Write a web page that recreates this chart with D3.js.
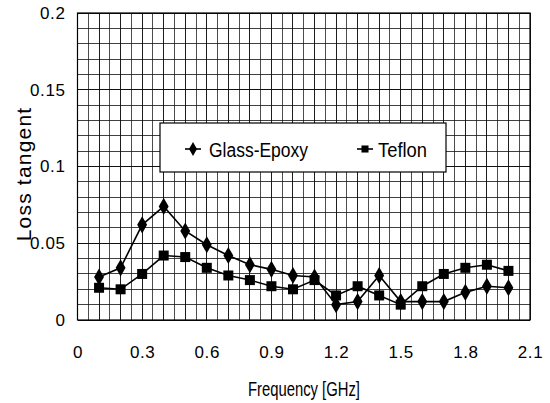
<!DOCTYPE html>
<html>
<head>
<meta charset="utf-8">
<script src="https://cdn.jsdelivr.net/npm/d3@7"></script>
<style>
  body { margin: 0; background: #fff; }
  svg { display: block; }
  .tick text { font-family: "Liberation Sans", Arial, sans-serif; font-size: 17px; fill: #000; letter-spacing: 0.6px; }
</style>
</head>
<body>
<div id="chart"></div>
<script>
const freq = [0.1, 0.2, 0.3, 0.4, 0.5, 0.6, 0.7, 0.8, 0.9, 1.0, 1.1, 1.2, 1.3, 1.4, 1.5, 1.6, 1.7, 1.8, 1.9, 2.0];
const glassEpoxy = [0.028, 0.034, 0.062, 0.074, 0.058, 0.049, 0.042, 0.036, 0.033, 0.029, 0.028, 0.010, 0.012, 0.029, 0.012, 0.012, 0.012, 0.018, 0.022, 0.021];
const teflon = [0.021, 0.020, 0.030, 0.042, 0.041, 0.034, 0.029, 0.026, 0.022, 0.020, 0.026, 0.016, 0.022, 0.016, 0.010, 0.022, 0.030, 0.034, 0.036, 0.032];
const xTicks = [0, 0.3, 0.6, 0.9, 1.2, 1.5, 1.8, 2.1];
const yTicks = [0, 0.05, 0.1, 0.15, 0.2];
const seriesNames = ["Glass-Epoxy", "Teflon"];

const width = 550, height = 403;
const margin = { left: 77.5, right: 530, top: 13, bottom: 320 };

const svg = d3.select("#chart").append("svg")
  .attr("width", width)
  .attr("height", height);

const x = d3.scaleLinear().domain([0, 2.1]).range([margin.left, margin.right]);
const y = d3.scaleLinear().domain([0, 0.2]).range([margin.bottom, margin.top]);

// grid
const grid = svg.append("g").attr("stroke", "#111").attr("stroke-width", 1).attr("shape-rendering", "crispEdges");
grid.selectAll(".v").data(d3.range(0, 43).map(i => i * 0.05))
  .join("line")
  .attr("x1", d => x(d)).attr("x2", d => x(d))
  .attr("y1", margin.top).attr("y2", margin.bottom)
  .attr("stroke-opacity", (d, i) => i % 2 ? 0.75 : 0.95);
grid.selectAll(".h").data(d3.range(0, 21).map(i => i * 0.01))
  .join("line")
  .attr("x1", margin.left).attr("x2", margin.right)
  .attr("y1", d => y(d)).attr("y2", d => y(d))
  .attr("stroke-opacity", (d, i) => i % 5 ? 0.8 : 1);

svg.append("rect")
  .attr("x", margin.left).attr("y", margin.top)
  .attr("width", margin.right - margin.left).attr("height", margin.bottom - margin.top)
  .attr("fill", "none").attr("stroke", "#000").attr("stroke-width", 1.2);

// axes (labels only)
const xAxis = svg.append("g")
  .attr("transform", `translate(0,${margin.bottom})`)
  .call(d3.axisBottom(x).tickValues(xTicks).tickSize(0).tickPadding(26).tickFormat(d3.format("~g")));
xAxis.select(".domain").remove();

const yAxis = svg.append("g")
  .attr("transform", `translate(${margin.left},0)`)
  .call(d3.axisLeft(y).tickValues(yTicks).tickSize(0).tickPadding(12).tickFormat(d3.format("~g")));
yAxis.select(".domain").remove();

svg.append("text")
  .attr("x", 248).attr("y", 396)
  .attr("font-family", "'Liberation Sans Narrow', 'Liberation Sans', sans-serif")
  .attr("font-size", 21)
  .attr("textLength", 112)
  .attr("lengthAdjust", "spacingAndGlyphs")
  .text("Frequency [GHz]");

svg.append("text")
  .attr("transform", "translate(31,174) rotate(-90)")
  .attr("text-anchor", "middle")
  .attr("font-family", "'Liberation Sans', Arial, sans-serif")
  .attr("font-size", 21)
  .attr("letter-spacing", 1.2)
  .text("Loss tangent");

// lines and markers
const line = d3.line().x((d, i) => x(freq[i])).y(d => y(d));
const diamond = d3.symbol().type(d3.symbolDiamond).size(85);
const square = d3.symbol().type(d3.symbolSquare).size(100);

function drawSeries(values, sym) {
  svg.append("path")
    .datum(values)
    .attr("fill", "none")
    .attr("stroke", "#000")
    .attr("stroke-width", 1.6)
    .attr("d", line);
  svg.append("g").selectAll("path").data(values)
    .join("path")
    .attr("transform", (d, i) => `translate(${x(freq[i])},${y(d)})`)
    .attr("d", sym)
    .attr("fill", "#000");
}
drawSeries(glassEpoxy, diamond);
drawSeries(teflon, square);

// legend
const legend = svg.append("g");
legend.append("rect")
  .attr("x", 160).attr("y", 123)
  .attr("width", 286).attr("height", 49)
  .attr("fill", "#fff").attr("stroke", "#000").attr("stroke-width", 1.2);

const items = [
  { name: seriesNames[0], mx: 193, tx: 209, w: 99 },
  { name: seriesNames[1], mx: 365, tx: 378, w: 49 }
];
const legendSym = [d3.symbol().type(d3.symbolDiamond).size(55), d3.symbol().type(d3.symbolSquare).size(50)];
items.forEach((it, i) => {
  legend.append("line")
    .attr("x1", it.mx - 8).attr("x2", it.mx + 8)
    .attr("y1", 149).attr("y2", 149)
    .attr("stroke", "#000").attr("stroke-width", 1.6);
  legend.append("path")
    .attr("transform", `translate(${it.mx},149)`)
    .attr("d", legendSym[i])
    .attr("fill", "#000");
  legend.append("text")
    .attr("x", it.tx).attr("y", 157)
    .attr("font-family", "'Liberation Sans Narrow', 'Liberation Sans', sans-serif")
    .attr("font-size", 20)
    .attr("textLength", it.w)
    .attr("lengthAdjust", "spacingAndGlyphs")
    .text(it.name);
});
</script>
</body>
</html>
